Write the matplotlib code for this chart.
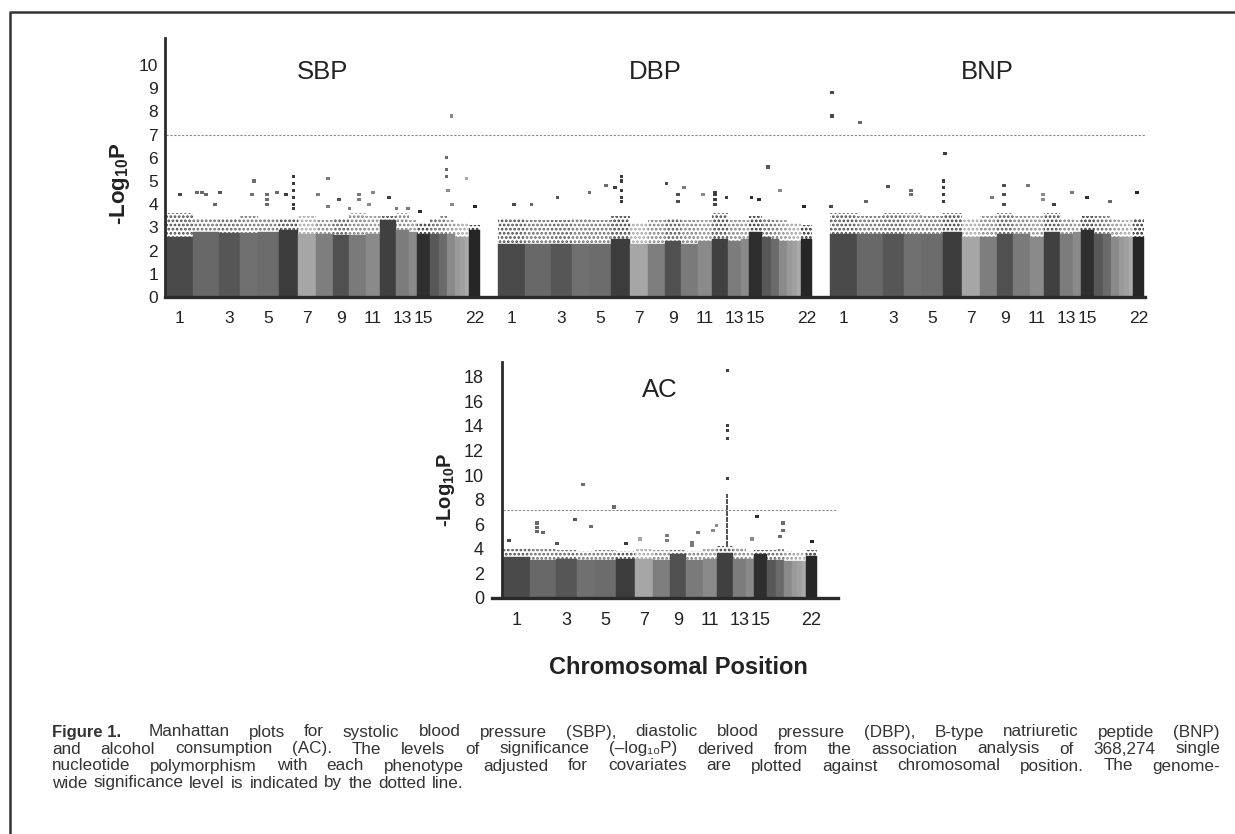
import numpy as np
import matplotlib
matplotlib.use('Agg')
import matplotlib.pyplot as plt
from matplotlib.lines import Line2D

plt.rcParams['font.family'] = ['Liberation Sans', 'DejaVu Sans']
plt.rcParams['mathtext.fontset'] = 'custom'
plt.rcParams['mathtext.rm'] = 'Liberation Sans'
plt.rcParams['mathtext.bf'] = 'Liberation Sans:bold'
plt.rcParams['mathtext.default'] = 'regular'
plt.rcParams['hatch.linewidth'] = 1.3

# chromosome widths (SNP position units) and shades, shared by all panels
chrom_len = [27, 26, 21, 18, 21, 19, 18, 17, 16, 17, 14, 16,
             13, 8, 13, 9, 8, 8, 5, 5, 4, 11]
chrom_color = ['#4a4a4a', '#686868', '#565656', '#707070', '#6c6c6c', '#3c3c3c',
               '#a6a6a6', '#7e7e7e', '#505050', '#7a7a7a', '#8a8a8a', '#404040',
               '#7c7c7c', '#8a8a8a', '#2e2e2e', '#585858', '#6a6a6a', '#8a8a8a',
               '#9a9a9a', '#a0a0a0', '#aaaaaa', '#262626']
tick_chroms = [1, 3, 5, 7, 9, 11, 13, 15, 22]
panel_gap = 18
sig_top = 7.0
sig_ac = 7.2

# -log10P of the dense body (solid) and of the speckled fringe, per chromosome
sbp_solid = [2.6, 2.8, 2.75, 2.75, 2.8, 2.9, 2.7, 2.7, 2.65, 2.65, 2.7, 3.3,
             2.9, 2.8, 2.7, 2.7, 2.7, 2.7, 2.6, 2.6, 2.6, 2.9]
sbp_fringe = [3.6, 3.4, 3.4, 3.5, 3.4, 3.4, 3.5, 3.3, 3.4, 3.6, 3.5, 3.5,
              3.6, 3.3, 3.2, 3.4, 3.5, 3.3, 3.2, 3.2, 3.2, 3.1]
dbp_solid = [2.3, 2.3, 2.3, 2.3, 2.3, 2.5, 2.3, 2.3, 2.4, 2.3, 2.4, 2.5,
             2.4, 2.5, 2.8, 2.6, 2.5, 2.4, 2.4, 2.4, 2.4, 2.5]
dbp_fringe = [3.4, 3.3, 3.3, 3.4, 3.3, 3.5, 3.2, 3.3, 3.4, 3.3, 3.3, 3.6,
              3.3, 3.3, 3.5, 3.4, 3.3, 3.3, 3.2, 3.2, 3.2, 3.1]
bnp_solid = [2.7, 2.7, 2.7, 2.7, 2.7, 2.8, 2.6, 2.6, 2.7, 2.7, 2.6, 2.8,
             2.7, 2.8, 2.9, 2.7, 2.7, 2.6, 2.6, 2.6, 2.6, 2.6]
bnp_fringe = [3.6, 3.5, 3.6, 3.6, 3.5, 3.6, 3.4, 3.5, 3.6, 3.5, 3.5, 3.6,
              3.4, 3.3, 3.5, 3.5, 3.5, 3.4, 3.3, 3.3, 3.3, 3.4]
ac_solid = [3.3, 3.1, 3.2, 3.1, 3.1, 3.2, 3.2, 3.1, 3.6, 3.1, 3.2, 3.7,
            3.2, 3.2, 3.6, 3.1, 3.1, 3.0, 3.0, 3.0, 3.0, 3.4]
ac_fringe = [4.0, 4.0, 3.9, 3.8, 3.9, 3.8, 4.0, 3.9, 3.9, 3.8, 4.0, 4.2,
             4.1, 3.8, 3.9, 3.9, 4.0, 3.8, 3.7, 3.7, 3.7, 3.9]

# individual SNPs above the body: (chromosome, position in chromosome, -log10P)
sbp_points = [(18, 4.7, 7.8), (17, 7.7, 6.0), (17, 7.7, 5.5), (17, 7.7, 5.2),
              (18, 1, 4.6), (18, 5, 4.0), (21, 1.7, 5.1), (22, 6, 3.9),
              (6, 14.3, 5.2), (6, 14.3, 4.9), (6, 14.3, 4.6), (6, 14.3, 4.3),
              (6, 14.3, 4.0), (6, 14.3, 3.8), (8, 12, 5.1), (4, 14, 5.0),
              (1, 14, 4.4), (2, 4, 4.5), (2, 9, 4.5), (2, 13, 4.4), (3, 1, 4.5),
              (2, 22, 4.0), (4, 12, 4.4), (5, 9, 4.4), (5, 9, 4.2), (5, 9, 4.0),
              (5, 19, 4.5), (6, 7, 4.4), (8, 2, 4.4), (8, 12, 3.9), (9, 6, 4.2),
              (10, 0.5, 3.8), (10, 10, 4.4), (10, 10, 4.2), (11, 7, 4.5),
              (11, 3, 4.0), (12, 9, 4.3), (13, 0.5, 3.8), (13, 12, 3.8),
              (15, 3, 3.7)]
dbp_points = [(16, 6, 5.6), (18, 1, 4.6), (6, 10.7, 5.2), (6, 10.7, 5.0),
              (6, 10.7, 4.6), (6, 10.7, 4.3), (6, 10.7, 4.1), (5, 16, 4.8),
              (6, 4, 4.7), (9, 1.7, 4.9), (10, 3, 4.7), (9, 13, 4.4),
              (9, 13, 4.1), (12, 3, 4.5), (12, 3, 4.4), (12, 3, 4.2), (12, 3, 4.0),
              (3, 6.7, 4.3), (4, 17.5, 4.5), (1, 16, 4.0), (2, 6.7, 4.0),
              (11, 5, 4.4), (12, 14.7, 4.3), (15, 2.7, 4.3), (15, 10, 4.2),
              (22, 3, 3.9)]
bnp_points = [(1, 2, 8.8), (1, 2, 7.8), (2, 3, 7.5), (6, 2, 6.2), (6, 0.5, 5.0),
              (6, 0.5, 4.7), (6, 0.5, 4.4), (6, 0.5, 4.1), (3, 5, 4.75),
              (9, 7, 4.8), (9, 7, 4.4), (9, 7, 4.0), (10, 15, 4.8), (11, 13, 4.4),
              (11, 13, 4.2), (13, 12, 4.5), (15, 6, 4.3), (17, 7, 4.1),
              (22, 4, 4.5), (2, 9, 4.1), (4, 7, 4.6), (4, 7, 4.4), (1, 1, 3.9),
              (8, 12, 4.3), (12, 10, 4.0)]
ac_points = [(12, 10.3, 18.5), (12, 10.3, 14.0), (12, 10.3, 13.6), (12, 10.3, 13.0),
             (12, 10.3, 9.7), (4, 6, 9.2), (3, 19, 6.4), (5, 19, 7.4),
             (2, 7, 6.1), (2, 7, 5.7), (2, 7, 5.4), (2, 13, 5.3), (15, 3, 6.6),
             (17, 7, 6.1), (17, 7, 5.5), (17, 4, 5.0), (11, 13.5, 5.9),
             (11, 10, 5.5), (4, 14, 5.8), (8, 14, 5.1), (8, 14, 4.7),
             (10, 12, 5.3), (10, 6, 4.5), (10, 6, 4.3), (1, 6, 4.7), (3, 1, 4.4),
             (6, 10, 4.4), (7, 5, 4.8), (22, 6, 4.6), (14, 6, 4.8)]
# runs of SNPs so dense they form a line: (chromosome, position, low, high)
ac_columns = [(12, 10.3, 4.2, 8.5)]

starts = np.concatenate([[0], np.cumsum(chrom_len)[:-1]])
centers = starts + np.array(chrom_len) / 2.0
total = float(np.sum(chrom_len))


def draw_manhattan(ax, x0, solid, fringe, points, columns=()):
    ax.bar(x0 + centers, solid, width=chrom_len, color=chrom_color,
           edgecolor=chrom_color, linewidth=0.3, zorder=2)
    ax.bar(x0 + centers, np.array(fringe) - np.array(solid), bottom=solid,
           width=chrom_len, facecolor='none', edgecolor=chrom_color,
           hatch='....', linewidth=0, zorder=2)
    for c, pos, lo, hi in columns:
        ax.vlines(x0 + starts[c - 1] + pos, lo, hi, color='#333333', lw=1.2,
                  linestyles=(0, (3, 0.6)), zorder=3)
    xs = [x0 + starts[c - 1] + pos for c, pos, v in points]
    ys = [v for c, pos, v in points]
    cs = [chrom_color[c - 1] for c, pos, v in points]
    ax.scatter(xs, ys, s=5, c=cs, marker='s', linewidths=0, zorder=3)


def style_axis(ax, fs, ypad):
    for s in ['top', 'right']:
        ax.spines[s].set_visible(False)
    ax.spines['left'].set_linewidth(2)
    ax.spines['bottom'].set_linewidth(2.4)
    ax.spines['left'].set_color('#2a2a2a')
    ax.spines['bottom'].set_color('#2a2a2a')
    ax.tick_params(length=0, labelsize=fs, colors='#222222')
    ax.tick_params(axis='y', pad=ypad)
    ax.tick_params(axis='x', pad=10)
    ax.set_facecolor('none')


fig = plt.figure(figsize=(12.35, 8.34), dpi=100)
W, H = 1235.0, 834.0

# ---------------- top row: SBP, DBP, BNP on one axis
ax = fig.add_axes([165 / W, 1 - 297 / H, 980 / W, 259 / H])
titles = ['SBP', 'DBP', 'BNP']
solids = [sbp_solid, dbp_solid, bnp_solid]
fringes = [sbp_fringe, dbp_fringe, bnp_fringe]
pts = [sbp_points, dbp_points, bnp_points]
ticks, labels = [], []
for i in range(3):
    x0 = i * (total + panel_gap)
    draw_manhattan(ax, x0, solids[i], fringes[i], pts[i])
    ax.text(x0 + total / 2, 9.7, titles[i], ha='center', va='center',
            fontsize=18.5, color='#222222')
    for c in tick_chroms:
        ticks.append(x0 + centers[c - 1])
        labels.append(str(c))
ax.hlines(sig_top, 0, 3 * total + 2 * panel_gap + 1, colors='#8a8a8a',
          linestyles=(0, (2, 1.5)), lw=0.8, zorder=1)
ax.set_xlim(-1, 3 * total + 2 * panel_gap + 1)
ax.set_ylim(0, 11.16)
ax.set_yticks(range(0, 11))
ax.set_xticks(ticks)
ax.set_xticklabels(labels)
style_axis(ax, 12.5, 5)
ax.set_ylabel('-Log$_{\\mathbf{10}}$P', fontsize=16, fontweight='bold', color='#222222')
ax.yaxis.set_label_coords(-0.034, 0.436)

# ---------------- bottom: AC
ax2 = fig.add_axes([492 / W, 1 - 598 / H, 346 / W, 236 / H])
draw_manhattan(ax2, 0, ac_solid, ac_fringe, ac_points, ac_columns)
ax2.text(total / 2, 16.9, 'AC', ha='center', va='center', fontsize=18.5, color='#222222')
ax2.hlines(sig_ac, 0, total + 20, colors='#8a8a8a', linestyles=(0, (2, 1.5)),
           lw=0.8, zorder=1)
ax2.set_xlim(-11, 335)
ax2.set_ylim(0, 19.2)
ax2.spines['left'].set_position(('data', -1))
ax2.set_yticks(range(0, 19, 2))
ax2.set_xticks([centers[c - 1] for c in tick_chroms])
ax2.set_xticklabels([str(c) for c in tick_chroms])
style_axis(ax2, 13, 13)
ax2.set_ylabel('-Log$_{\\mathbf{10}}$P', fontsize=14.5, fontweight='bold', color='#222222')
ax2.yaxis.set_label_coords(-0.101, 0.458)

fig.text(678 / W, 1 - 668 / H, 'Chromosomal Position', ha='center', va='center',
         fontsize=17, fontweight='bold', color='#222222')

# frame round the figure (cut at right and bottom)
fig.add_artist(Line2D([10 / W, 10 / W, 1.0], [0.0, 1 - 12 / H, 1 - 12 / H],
                      transform=fig.transFigure, color='#333333', lw=1.8))

# ---------------- caption, justified between x=52 and x=1220
caption = [
    'Manhattan plots for systolic blood pressure (SBP), diastolic blood pressure (DBP), B-type natriuretic peptide (BNP)',
    'and alcohol consumption (AC). The levels of significance (–log₁₀P) derived from the association analysis of 368,274 single',
    'nucleotide polymorphism with each phenotype adjusted for covariates are plotted against chromosomal position. The genome-',
    'wide significance level is indicated by the dotted line.',
]
cap_y = [732, 749, 766, 783]
x_left, x_right = 52, 1220
fig.canvas.draw()
r = fig.canvas.get_renderer()
for i, line in enumerate(caption):
    items = []
    extra = 0
    if i == 0:
        items.append(fig.text(0, 1 - cap_y[i] / H, 'Figure 1.', fontsize=12,
                              fontweight='bold', color='#333333', va='center',
                              family=['Liberation Sans Narrow', 'Liberation Sans']))
        extra = 8
    for w in line.split():
        items.append(fig.text(0, 1 - cap_y[i] / H, w, fontsize=12.3,
                              color='#333333', va='center'))
    widths = [t.get_window_extent(r).width for t in items]
    if i == len(caption) - 1:
        gap = 6.0
    else:
        gap = (x_right - x_left - extra - sum(widths)) / (len(items) - 1)
    x = x_left
    for j, (t, w) in enumerate(zip(items, widths)):
        t.set_x(x / W)
        x += w + gap
        if j == 0:
            x += extra

fig.savefig('out.png', dpi=100, facecolor='white')
